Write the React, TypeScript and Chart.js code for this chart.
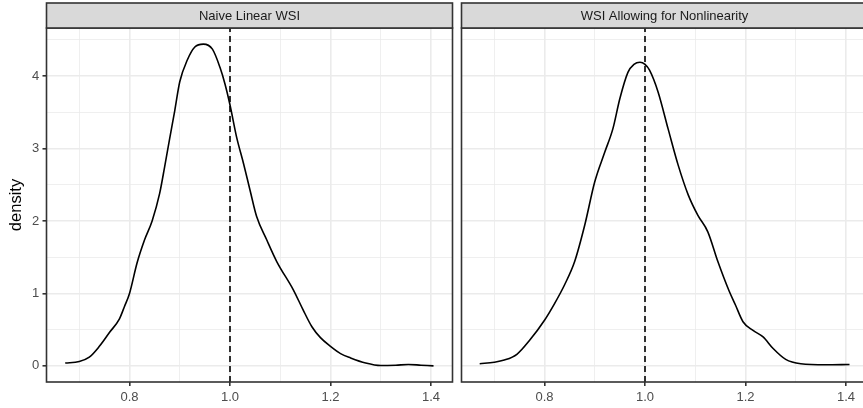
import React, { useEffect, useRef } from "react";
import { Chart, registerables } from "chart.js";

Chart.register(...registerables);

// ---------- data ----------
const panelTitles = ["Naive Linear WSI", "WSI Allowing for Nonlinearity"];

const naiveX = [0.672, 0.70, 0.72, 0.74, 0.76, 0.78, 0.79, 0.80, 0.815, 0.83, 0.845, 0.86, 0.87, 0.88, 0.89, 0.90, 0.915, 0.93, 0.947, 0.965, 0.98, 0.99, 1.00, 1.013, 1.027, 1.04, 1.053, 1.073, 1.093, 1.126, 1.145, 1.163, 1.18, 1.20, 1.22, 1.24, 1.27, 1.30, 1.33, 1.355, 1.38, 1.405];
const naiveY = [0.04, 0.06, 0.12, 0.27, 0.46, 0.65, 0.82, 1.00, 1.42, 1.74, 2.00, 2.38, 2.75, 3.14, 3.52, 3.92, 4.22, 4.40, 4.44, 4.37, 4.12, 3.89, 3.60, 3.16, 2.79, 2.42, 2.06, 1.74, 1.44, 1.05, 0.78, 0.54, 0.39, 0.27, 0.17, 0.11, 0.04, 0.005, 0.01, 0.02, 0.01, 0.00];

const nonlinX = [0.671, 0.70, 0.72, 0.745, 0.77, 0.80, 0.82, 0.84, 0.86, 0.88, 0.90, 0.92, 0.936, 0.95, 0.966, 0.978, 0.99, 1.00, 1.009, 1.026, 1.046, 1.066, 1.086, 1.105, 1.125, 1.145, 1.167, 1.18, 1.195, 1.215, 1.235, 1.255, 1.28, 1.31, 1.36, 1.407];
const nonlinY = [0.03, 0.05, 0.08, 0.16, 0.35, 0.63, 0.86, 1.12, 1.44, 1.94, 2.54, 2.95, 3.27, 3.69, 4.05, 4.16, 4.19, 4.16, 4.08, 3.78, 3.27, 2.77, 2.36, 2.08, 1.85, 1.44, 1.04, 0.84, 0.61, 0.49, 0.40, 0.24, 0.09, 0.03, 0.015, 0.02];

const xMajorTicks = [0.8, 1.0, 1.2, 1.4];
const xMinorTicks = [0.7, 0.9, 1.1, 1.3];
const yMajorTicks = [0, 1, 2, 3, 4];
const yMinorTicks = [0.5, 1.5, 2.5, 3.5, 4.5];
const referenceX = 1.0;
const xLimits = [0.6348, 1.4428];
const yLimits = [-0.222, 4.662];
const yTitle = "density";

// ---------- styling ----------
const FONT = "'Liberation Sans', Arial, Helvetica, sans-serif";
const isIn = (arr: number[], v: number) => arr.some((m) => Math.abs(m - v) < 1e-9);
const xTicksAll = [...xMajorTicks, ...xMinorTicks].sort((a, b) => a - b);
const yTicksAll = [...yMajorTicks, ...yMinorTicks].sort((a, b) => a - b);

function panelPlugin(title: string) {
  return {
    id: "panelDecor",
    afterDraw(chart: any) {
      const { ctx, chartArea } = chart;
      const { left, right, top, bottom } = chartArea;
      const xs = chart.scales.x;
      // reference dashed line
      const px = xs.getPixelForValue(referenceX);
      ctx.save();
      ctx.beginPath();
      ctx.setLineDash([6, 4]);
      ctx.lineWidth = 1.6;
      ctx.strokeStyle = "#000000";
      ctx.moveTo(px, bottom);
      ctx.lineTo(px, top);
      ctx.stroke();
      ctx.setLineDash([]);
      // panel border
      ctx.lineWidth = 1.6;
      ctx.strokeStyle = "#333333";
      ctx.strokeRect(left, top, right - left, bottom - top);
      // strip
      const stripTop = 3;
      ctx.fillStyle = "#D9D9D9";
      ctx.fillRect(left, stripTop, right - left, top - stripTop);
      ctx.strokeRect(left, stripTop, right - left, top - stripTop);
      ctx.fillStyle = "#1A1A1A";
      ctx.font = `13px ${FONT}`;
      ctx.textAlign = "center";
      ctx.textBaseline = "middle";
      ctx.fillText(title, (left + right) / 2, (stripTop + top) / 2 + 0.5);
      ctx.restore();
    },
  };
}

function buildConfig(title: string, xs: number[], ys: number[], showY: boolean, padding: any): any {
  return {
    type: "line",
    data: {
      datasets: [
        {
          data: xs.map((x, i) => ({ x, y: ys[i] })),
          borderColor: "#000000",
          borderWidth: 1.6,
          pointRadius: 0,
          fill: false,
          cubicInterpolationMode: "monotone",
        },
      ],
    },
    options: {
      responsive: false,
      animation: false,
      devicePixelRatio: 1,
      events: [],
      layout: { padding },
      plugins: { legend: { display: false }, tooltip: { enabled: false } },
      scales: {
        x: {
          type: "linear",
          min: xLimits[0],
          max: xLimits[1],
          afterBuildTicks: (s: any) => {
            s.ticks = xTicksAll.map((v) => ({ value: v }));
          },
          afterFit: (s: any) => {
            s.height = 26;
            s.paddingLeft = 0;
            s.paddingRight = 0;
          },
          border: { display: false },
          grid: {
            color: "#EBEBEB",
            lineWidth: (c: any) => (c.tick && isIn(xMajorTicks, c.tick.value) ? 1.6 : 0.8),
            tickColor: (c: any) => (c.tick && isIn(xMajorTicks, c.tick.value) ? "#333333" : "rgba(0,0,0,0)"),
            tickLength: 4,
            tickWidth: 1.6,
          },
          ticks: {
            autoSkip: false,
            maxRotation: 0,
            padding: 4,
            color: "#4D4D4D",
            font: { family: FONT, size: 13 },
            callback: (v: any) => (isIn(xMajorTicks, Number(v)) ? Number(v).toFixed(1) : ""),
          },
        },
        y: {
          type: "linear",
          min: yLimits[0],
          max: yLimits[1],
          afterBuildTicks: (s: any) => {
            s.ticks = yTicksAll.map((v) => ({ value: v }));
          },
          afterFit: (s: any) => {
            s.width = showY ? 46.5 : 0;
            s.paddingTop = 0;
            s.paddingBottom = 0;
          },
          border: { display: false },
          title: showY
            ? { display: true, text: yTitle, color: "#000000", font: { family: FONT, size: 16.5 }, padding: { top: 7, bottom: 0 } }
            : { display: false },
          grid: {
            color: "#EBEBEB",
            lineWidth: (c: any) => (c.tick && isIn(yMajorTicks, c.tick.value) ? 1.6 : 0.8),
            tickColor: (c: any) => (c.tick && isIn(yMajorTicks, c.tick.value) ? "#333333" : "rgba(0,0,0,0)"),
            tickLength: showY ? 4 : 0,
            tickWidth: 1.6,
            drawTicks: showY,
          },
          ticks: {
            display: showY,
            autoSkip: false,
            padding: 3.3,
            color: "#4D4D4D",
            font: { family: FONT, size: 13 },
            callback: (v: any) => (isIn(yMajorTicks, Number(v)) ? String(Math.round(Number(v))) : ""),
          },
        },
      },
    },
    plugins: [panelPlugin(title)],
  };
}

export default function App() {
  const ref1 = useRef<HTMLCanvasElement>(null);
  const ref2 = useRef<HTMLCanvasElement>(null);

  useEffect(() => {
    const c1 = new Chart(
      ref1.current as HTMLCanvasElement,
      buildConfig(panelTitles[0], naiveX, naiveY, true, { left: 0, top: 28, right: 4.5, bottom: 0 })
    );
    const c2 = new Chart(
      ref2.current as HTMLCanvasElement,
      buildConfig(panelTitles[1], nonlinX, nonlinY, false, { left: 4.5, top: 28, right: 9.5, bottom: 0 })
    );
    return () => {
      c1.destroy();
      c2.destroy();
    };
  }, []);

  return (
    <div
      style={{
        position: "absolute",
        left: 0,
        top: 0,
        width: 863,
        height: 408,
        overflow: "hidden",
        background: "#ffffff",
      }}
    >
      <canvas ref={ref1} width={457} height={408} style={{ position: "absolute", left: 0, top: 0 }} />
      <canvas ref={ref2} width={420} height={408} style={{ position: "absolute", left: 457, top: 0 }} />
    </div>
  );
}
